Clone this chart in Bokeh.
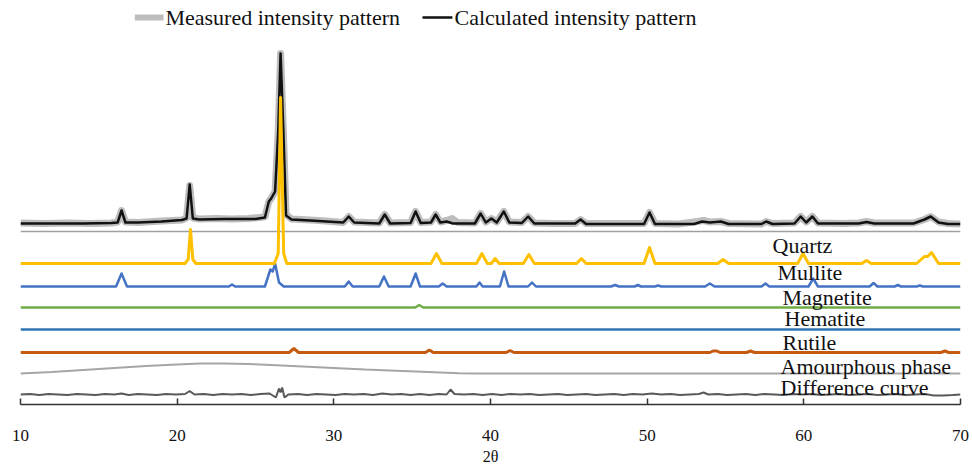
from bokeh.plotting import figure
from bokeh.models import Range1d, FixedTicker
from bokeh.core.properties import value
from bokeh.embed import file_html
from bokeh.resources import INLINE

# ---------------- data (2θ in degrees, intensities in arbitrary units) ----------------
calc_x = [10.0, 12.0, 14.0, 15.8, 16.2, 16.45, 16.7, 17.5, 19.0, 20.3, 20.6, 20.8, 21.0, 21.4,
          23.0, 25.0, 25.6, 25.85, 26.0, 26.25, 26.45, 26.6, 26.78, 26.95, 27.3, 28.5, 30.6,
          30.95, 31.3, 32.9, 33.25, 33.6, 34.9, 35.22, 35.55, 36.2, 36.5, 36.8, 37.2, 37.6,
          39.0, 39.37, 39.7, 40.06, 40.4, 40.85, 41.2, 42.0, 42.4, 42.8, 45.4, 45.75, 46.1,
          49.8, 50.15, 50.5, 53.0, 53.5, 54.0, 54.7, 55.2, 57.3, 57.6, 58.0, 59.4, 59.8, 60.15,
          60.55, 60.9, 63.5, 64.0, 64.5, 67.0, 67.7, 68.1, 68.6, 69.2, 70.0]
calc_y = [8, 8, 8, 8.5, 9, 21, 9, 9, 10, 11.5, 13, 47, 13, 12,
          12.5, 12.5, 14, 30, 33, 40, 100, 178, 100, 16, 12, 11, 9,
          15, 9, 8, 17, 8, 8.5, 20, 8.5, 9, 17, 9, 10, 8,
          8, 18, 9, 13, 9, 20, 9, 8.5, 15, 8, 8, 12, 7.5,
          7.5, 19, 7.5, 7.5, 10, 9, 10, 7.5, 7.5, 10, 7.5, 8, 15, 9,
          15, 8, 8, 9.5, 8, 8, 12, 15, 9, 7.5, 7.5]

meas_x = [10.0, 11.5, 13.0, 14.5, 15.8, 16.2, 16.45, 16.7, 17.5, 19.0, 20.3, 20.6, 20.8, 21.0,
          21.4, 22.5, 23.5, 24.5, 25.6, 25.85, 26.0, 26.25, 26.45, 26.6, 26.78, 26.95, 27.3,
          28.5, 29.5, 30.6, 30.95, 31.3, 32.9, 33.25, 33.6, 34.9, 35.22, 35.55, 36.2, 36.5,
          36.8, 37.2, 37.55, 37.9, 39.0, 39.37, 39.7, 40.06, 40.4, 40.85, 41.2, 42.0, 42.4,
          42.8, 44.0, 45.4, 45.75, 46.1, 48.0, 49.8, 50.15, 50.5, 52.0, 53.2, 53.6, 54.0,
          54.7, 55.2, 57.3, 57.6, 58.0, 59.4, 59.8, 60.15, 60.55, 60.9, 62.5, 63.5, 64.0,
          64.5, 67.0, 67.7, 68.1, 68.6, 69.2, 70.0]
meas_y = [8.5, 8, 8.5, 8, 8.5, 9.5, 21, 9.5, 9, 10.5, 11.5, 13.5, 46, 13.5,
          12.5, 13, 12.5, 13, 14.5, 30, 33, 40, 100, 178, 100, 17, 12.5,
          11.5, 10.5, 9, 15, 9.5, 8.5, 17, 8.5, 9, 20, 9, 9.5, 17,
          9.5, 11, 13, 9, 8.5, 18, 9.5, 13, 9.5, 20, 9.5, 9, 15,
          8.5, 8, 8, 12, 8, 8, 8, 19, 8, 7.5, 10, 11, 9.5,
          10, 8, 7.5, 10, 8, 8.5, 15, 9.5, 15, 8.5, 8, 8.5, 10,
          8.5, 8.5, 12, 15, 9.5, 8, 7.5]

quartz_x = [10.0, 20.5, 20.7, 20.85, 21.0, 21.2, 26.2, 26.45, 26.6, 26.8, 27.0, 36.2, 36.55,
            36.9, 39.1, 39.45, 39.8, 40.05, 40.3, 40.55, 42.1, 42.45, 42.8, 45.5, 45.8, 46.1,
            49.8, 50.15, 50.5, 54.5, 54.85, 55.2, 59.6, 59.95, 60.3, 63.7, 64.0, 64.3, 67.2,
            67.7, 67.9, 68.15, 68.6, 70.0]
quartz_y = [0, 0, 4, 34, 4, 0, 0, 10, 166, 10, 0, 0, 10,
            0, 0, 10, 0, 0, 5, 0, 0, 9, 0, 0, 5, 0,
            0, 16, 0, 0, 4, 0, 0, 10, 0, 0, 3, 0, 0,
            7, 7, 11, 0, 0]

mullite_x = [10.0, 16.1, 16.45, 16.8, 23.3, 23.5, 23.7, 25.6, 25.95, 26.1, 26.25, 26.5, 26.8,
             30.7, 30.95, 31.2, 32.9, 33.2, 33.5, 34.9, 35.22, 35.5, 36.7, 36.95, 37.2, 39.1,
             39.3, 39.5, 40.6, 40.87, 41.15, 42.4, 42.65, 42.9, 47.7, 47.95, 48.2, 49.2, 49.4,
             49.6, 50.5, 50.7, 50.9, 53.7, 54.0, 54.3, 57.3, 57.55, 57.8, 60.3, 60.6, 60.9,
             64.2, 64.45, 64.7, 65.8, 66.0, 66.2, 67.2, 67.4, 67.6, 70.0]
mullite_y = [0, 0, 13, 0, 0, 2, 0, 0, 17, 15, 23, 4, 0,
             0, 5, 0, 0, 10, 0, 0, 13, 0, 0, 3, 0, 0,
             4, 0, 0, 15, 0, 0, 4, 0, 0, 1.5, 0, 0, 1.5,
             0, 0, 1, 0, 0, 3, 0, 0, 3, 0, 0, 8, 0,
             0, 3.5, 0, 0, 1.5, 0, 0, 1, 0, 0]

magnetite_x = [10.0, 35.2, 35.45, 35.7, 70.0]
magnetite_y = [0, 0, 2.5, 0, 0]

hematite_x = [10.0, 70.0]
hematite_y = [0, 0]

rutile_x = [10.0, 27.15, 27.45, 27.75, 35.85, 36.1, 36.35, 41.0, 41.25, 41.5, 54.0, 54.2,
            54.45, 54.65, 56.35, 56.6, 56.85, 68.75, 69.0, 69.25, 70.0]
rutile_y = [0, 0, 4, 0, 0, 2.5, 0, 0, 2, 0, 0, 1.5,
            1.5, 0, 0, 1.5, 0, 0, 1.5, 0, 0]

amorph_x = [10.0, 12.0, 14.0, 16.0, 18.0, 20.0, 21.5, 23.0, 24.5, 26.0, 28.0, 30.0, 32.0,
            34.0, 36.0, 38.0, 39.0, 70.0]
amorph_y = [0, 1.5, 3.5, 5.5, 7.5, 9, 10, 10, 9.5, 8.5, 7, 5.5, 4,
            2.8, 1.5, 0.3, 0, 0]

diff_x = [10.0, 10.6, 11.2, 11.8, 12.4, 13.0, 13.6, 14.2, 14.8, 15.4, 16.0, 16.45, 16.9,
          17.5, 18.1, 18.7, 19.3, 19.9, 20.5, 20.8, 21.1, 21.7, 22.3, 22.9, 23.5, 24.1, 24.7,
          25.3, 25.9, 26.3, 26.5, 26.6, 26.7, 26.85, 27.1, 27.7, 28.3, 28.9, 29.5, 30.1,
          30.7, 31.3, 31.9, 32.5, 33.1, 33.7, 34.3, 34.9, 35.5, 36.1, 36.7, 37.2, 37.45,
          37.7, 38.3, 38.9, 39.5, 40.1, 40.7, 41.3, 41.9, 42.5, 43.1, 43.7, 44.3, 44.9,
          45.5, 46.1, 46.7, 47.3, 47.9, 48.5, 49.1, 49.7, 50.3, 50.9, 51.5, 52.1, 52.7,
          53.3, 53.6, 53.9, 54.5, 55.1, 55.7, 56.3, 56.9, 57.5, 58.1, 58.7, 59.3, 59.9,
          60.5, 61.1, 61.7, 62.3, 62.9, 63.5, 64.1, 64.7, 65.3, 65.9, 66.5, 67.1, 67.7,
          68.3, 68.9, 69.5, 70.0]
diff_y = [0, 0.5, -0.5, 0.5, 0, -0.5, 0.5, 0, -0.5, 0.5, 0, 1, -0.5,
          0.5, 0, -0.5, 0.5, 0, 0.5, 3.5, 0, 0.5, -0.5, 0.5, 0, 0.5, -0.5,
          0.5, 1, -3, 6, 2, 7, -3, 0, 0.5, -0.5, 0.5, 0, -0.5,
          0.5, 0, 0.5, -0.5, 1, 0, 0.5, -0.5, 0.5, -0.5, 0.5, 0, 5,
          0.5, 0, 0.5, -0.5, 0.5, -0.5, 0.5, 0, 0.5, -0.5, 0, 0.5, -0.5,
          0, 0.5, -0.5, 0, 0.5, -0.5, 0.5, 0, 1, 0, 0.5, -0.5, 0,
          0.5, 2, 0, 0.5, -0.5, 0, 0.5, -0.5, 0.5, 0, -0.5, 0.5, 0,
          0.5, -0.5, 0, 0.5, -0.5, 0, 0.5, -0.5, 0, 0.5, -0.5, 0, 0.5,
          -1, -1, -0.5, 0]

phase_labels = ["Quartz", "Mullite", "Magnetite", "Hematite", "Rutile",
                "Amourphous phase", "Difference curve"]
legend_labels = ["Measured intensity pattern", "Calculated intensity pattern"]
x_ticks = [10, 20, 30, 40, 50, 60, 70]
x_title = "2θ"

# ---------------- layout (vertical stacking offsets, styles) ----------------
OFF_MAIN = 173
OFF_Q = 141
OFF_M = 118
OFF_MAG = 97
OFF_H = 75
OFF_R = 52
OFF_A = 31
OFF_D = 10
FONT = value("Liberation Serif")


def shift(ys, off):
    return [v + off for v in ys]


p = figure(width=972, height=467, output_backend="svg", toolbar_location=None,
           x_range=Range1d(10, 70), y_range=Range1d(0, 404),
           y_axis_location=None, min_border_left=20, min_border_right=12,
           min_border_top=0, min_border_bottom=63)
p.outline_line_color = None
p.xgrid.visible = False
p.ygrid.visible = False
p.background_fill_color = "white"

# measured (thick light gray) and calculated (black)
p.line(meas_x, shift(meas_y, OFF_MAIN), line_color="#BDBDBD", line_width=7, line_join="round")
p.line(calc_x, shift(calc_y, OFF_MAIN), line_color="#111111", line_width=2.5, line_join="round")
# zero line under the pattern
p.line([10, 70], [OFF_MAIN, OFF_MAIN], line_color="#A0A0A0", line_width=1.5)

p.line(hematite_x, shift(hematite_y, OFF_H), line_color="#2E75B6", line_width=2.5)
p.line(magnetite_x, shift(magnetite_y, OFF_MAG), line_color="#70AD47", line_width=2.5)
p.line(rutile_x, shift(rutile_y, OFF_R), line_color="#C55A11", line_width=3)
p.line(amorph_x, shift(amorph_y, OFF_A), line_color="#A5A5A5", line_width=2)
p.line(diff_x, shift(diff_y, OFF_D), line_color="#595959", line_width=2)
p.line(mullite_x, shift(mullite_y, OFF_M), line_color="#4472C4", line_width=2.5, line_join="round")
p.line(quartz_x, shift(quartz_y, OFF_Q), line_color="#FFC000", line_width=3, line_join="round")

# phase labels
p.text(x=[58.0, 58.32, 58.64, 58.77, 58.64, 58.51, 58.51],
       y=[159, 132, 107, 86, 62, 38, 17],
       text=phase_labels, text_font=FONT, text_font_size="22px",
       text_baseline="middle", text_align="left", text_color="#111111")

# legend at top
p.line([17.3, 19.13], [387, 387], line_color="#BDBDBD", line_width=6)
p.line([35.66, 37.57], [387, 387], line_color="#111111", line_width=2.5)
p.text(x=[19.25, 37.7], y=[387, 387], text=legend_labels, text_font=FONT,
       text_font_size="22px", text_baseline="middle", text_align="left",
       text_color="#111111")

# x axis
ax = p.xaxis[0]
ax.ticker = FixedTicker(ticks=x_ticks)
ax.minor_tick_line_color = None
ax.major_tick_in = 6
ax.major_tick_out = 0
ax.axis_line_color = "#333333"
ax.axis_line_width = 1.5
ax.major_tick_line_color = "#333333"
ax.major_tick_line_width = 1.5
ax.major_label_text_font = "Liberation Serif"
ax.major_label_text_font_size = "17px"
ax.major_label_text_color = "#111111"
ax.major_label_standoff = 25
ax.axis_label = x_title
ax.axis_label_text_font = "Liberation Serif"
ax.axis_label_text_font_size = "16px"
ax.axis_label_text_font_style = "normal"
ax.axis_label_text_color = "#111111"
ax.axis_label_standoff = 4

open("out.html", "w").write(file_html(p, INLINE))
